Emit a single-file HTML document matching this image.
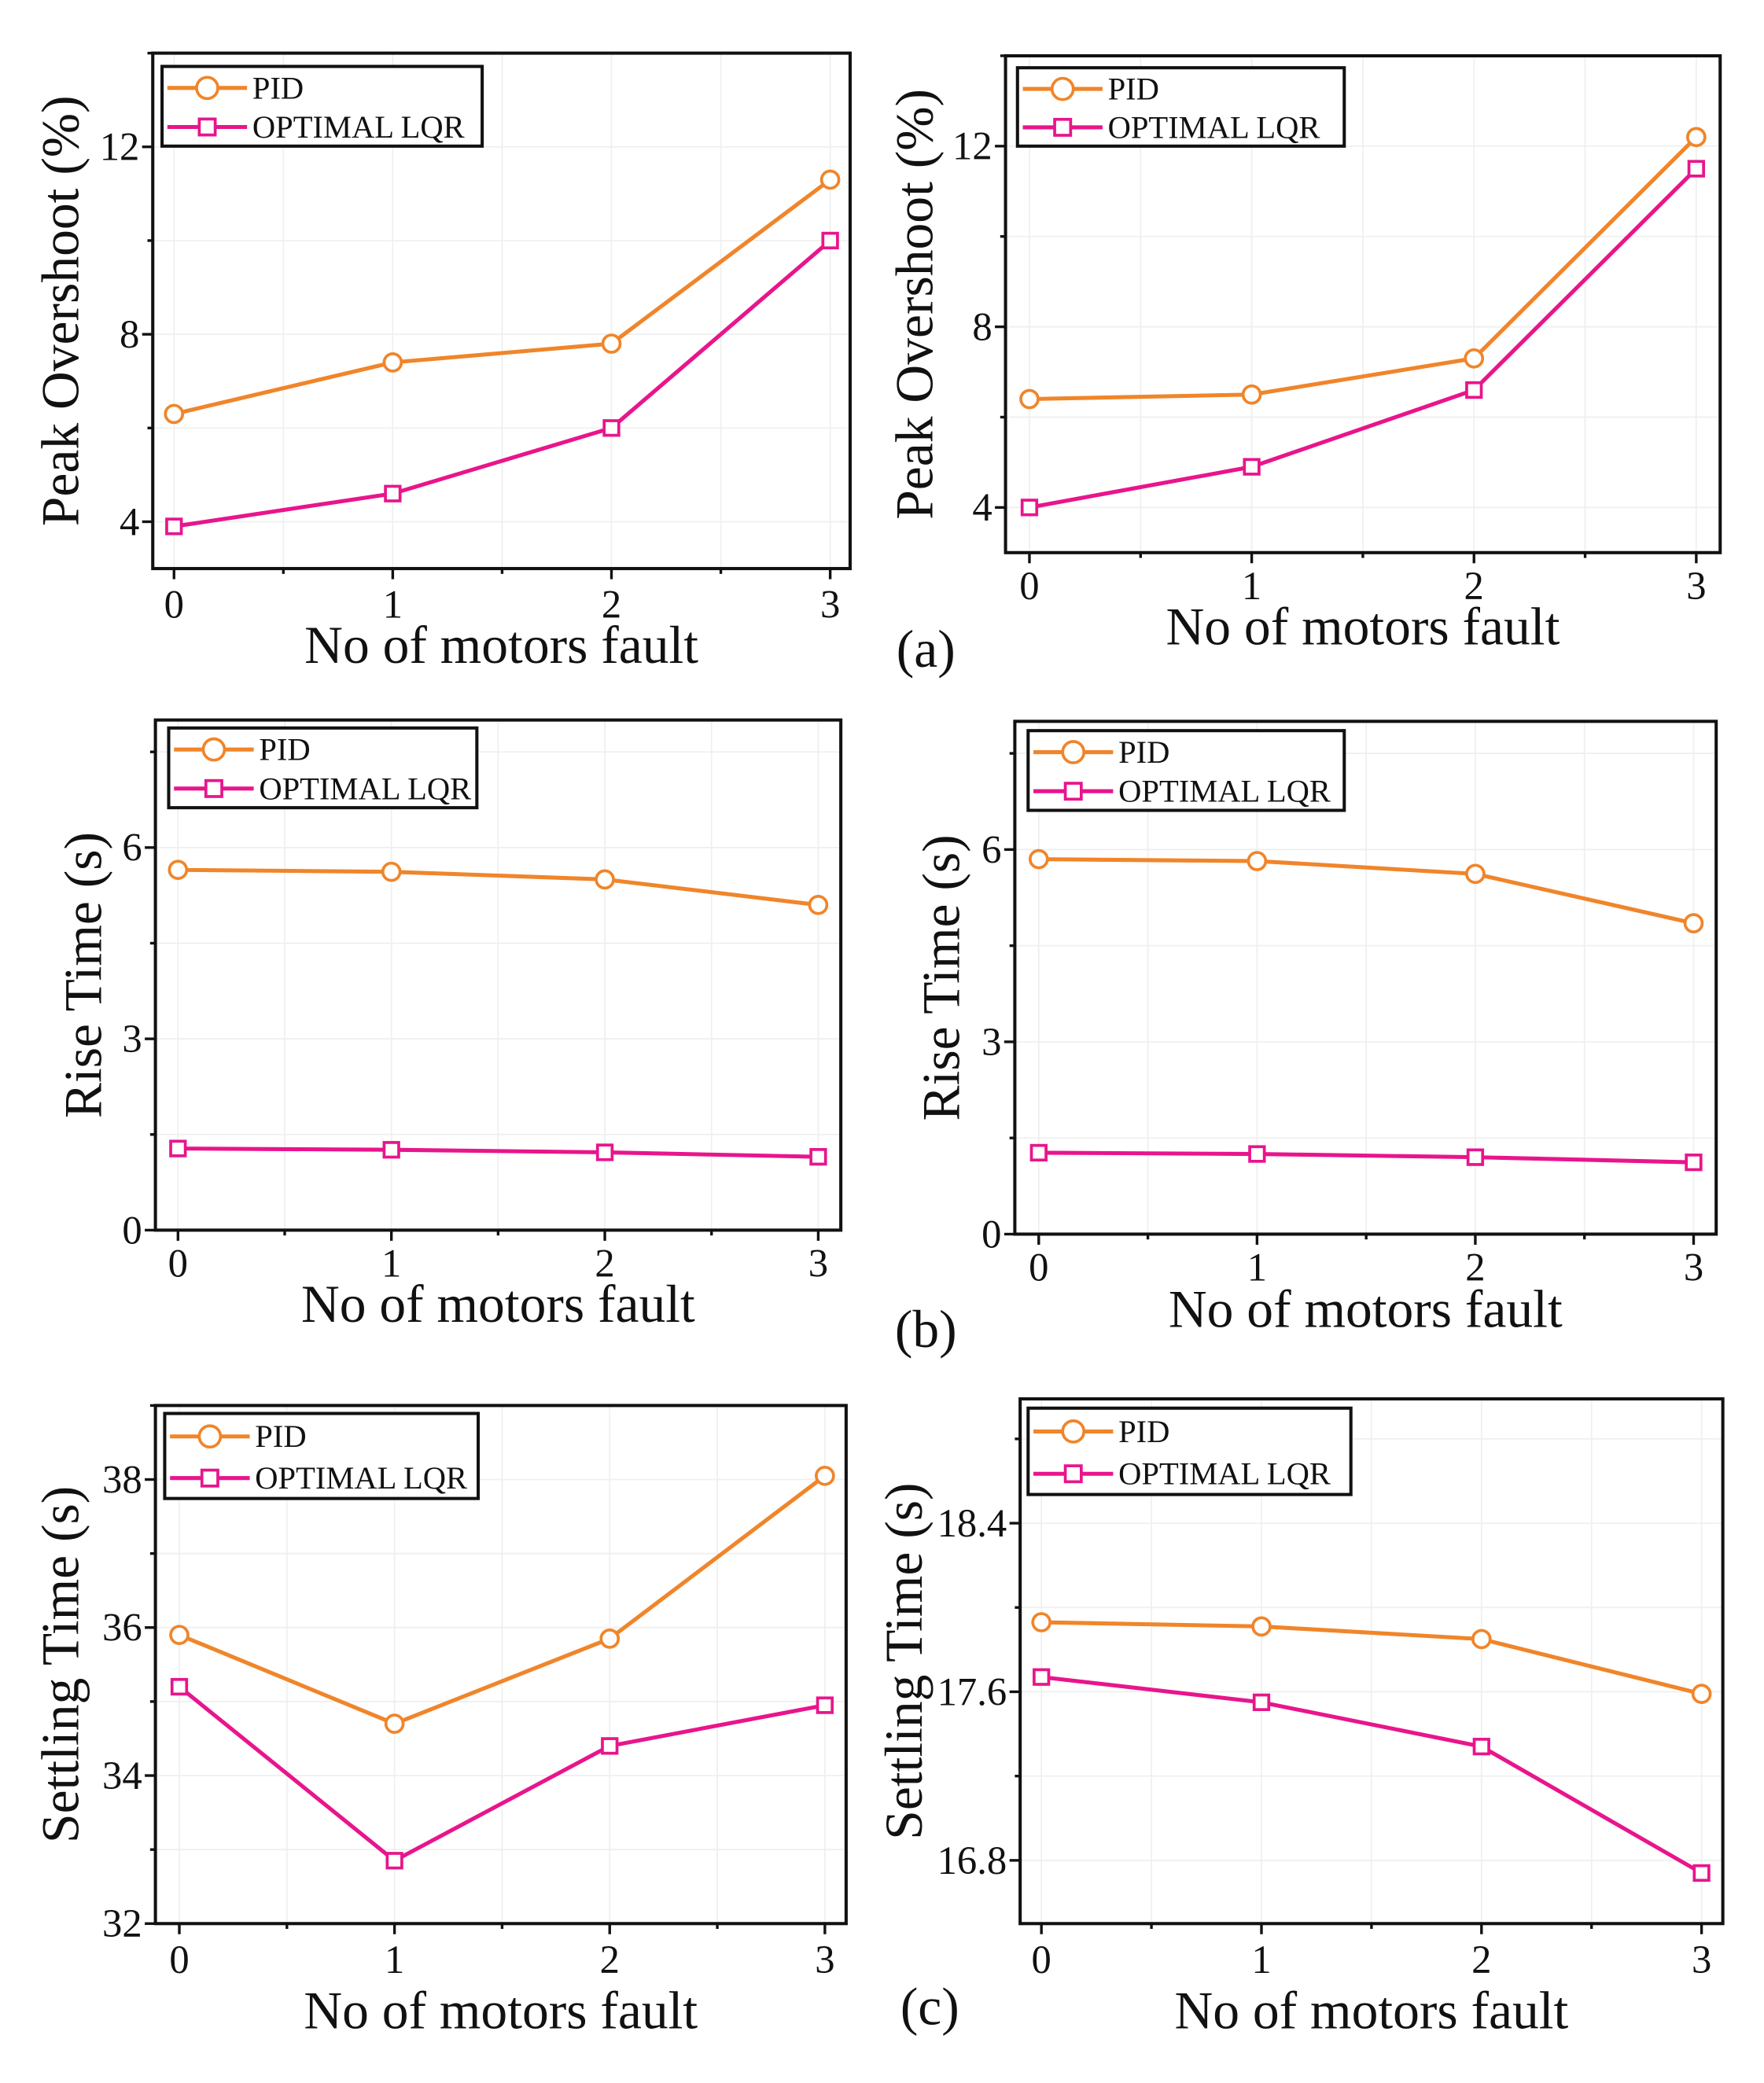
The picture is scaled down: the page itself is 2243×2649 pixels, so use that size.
<!DOCTYPE html>
<html><head><meta charset="utf-8"><style>
html,body{margin:0;padding:0;background:#fff;}
svg{display:block;}
text{font-family:"Liberation Serif","DejaVu Serif",serif;fill:#111;}
</style></head><body>
<svg id="fig" width="2243" height="2649" viewBox="0 0 1328 1568" preserveAspectRatio="none" xmlns="http://www.w3.org/2000/svg" font-family="Liberation Serif, serif">
<text x="697" y="502" font-size="40" text-anchor="middle">(a)</text>
<text x="697" y="1014" font-size="40" text-anchor="middle">(b)</text>
<text x="700" y="1524" font-size="40" text-anchor="middle">(c)</text>
</svg>
<script>
const xCats = [0, 1, 2, 3];
const seriesNames = ["PID", "OPTIMAL LQR"];
const pidA1 = [6.3, 7.4, 7.8, 11.3];
const lqrA1 = [3.9, 4.6, 6.0, 10.0];
const pidA2 = [6.4, 6.5, 7.3, 12.2];
const lqrA2 = [4.0, 4.9, 6.6, 11.5];
const pidB1 = [5.65, 5.62, 5.5, 5.1];
const lqrB1 = [1.28, 1.26, 1.22, 1.15];
const pidB2 = [5.85, 5.82, 5.62, 4.85];
const lqrB2 = [1.27, 1.25, 1.2, 1.12];
const pidC1 = [35.9, 34.7, 35.85, 38.05];
const lqrC1 = [35.2, 32.85, 34.4, 34.95];
const pidC2 = [17.93, 17.91, 17.85, 17.59];
const lqrC2 = [17.67, 17.55, 17.34, 16.74];
const ticksA = [4, 8, 12];
const ticksB = [0, 3, 6];
const ticksC1 = [32, 34, 36, 38];
const ticksC2 = [16.8, 17.6, 18.4];
const tickLabelsC2 = ["16.8", "17.6", "18.4"];

const NS = "http://www.w3.org/2000/svg";
const svg = document.getElementById("fig");
const ORANGE = "#F0852A", PINK = "#E8158C";
const FONT = "Liberation Serif, DejaVu Serif, serif";

function mk(tag, attrs, parent) {
  const e = document.createElementNS(NS, tag);
  for (const k in attrs) e.setAttribute(k, attrs[k]);
  if (tag === "text") e.setAttribute("font-family", FONT);
  (parent || svg).appendChild(e);
  return e;
}

const panels = [
  {id:"a-left", L:115,T:40,R:640,B:428, x0:131,x3:625, ymin:3,ymax:14, ticks:ticksA, labels:null, pid:pidA1, lqr:lqrA1, title:"Peak Overshoot (%)", tx:45, lg:[122,50,363,110], xl:465, xt:499},
  {id:"a-right", L:757,T:42,R:1295,B:416, x0:775,x3:1277, ymin:3,ymax:14, ticks:ticksA, labels:null, pid:pidA2, lqr:lqrA2, title:"Peak Overshoot (%)", tx:688, lg:[766,51,1012,110], xl:451, xt:485},
  {id:"b-left", L:117,T:542,R:633,B:926, x0:134,x3:616, ymin:0,ymax:8, ticks:ticksB, labels:null, pid:pidB1, lqr:lqrB1, title:"Rise Time (s)", tx:62, lg:[127,548,359,608], xl:961, xt:995},
  {id:"b-right", L:764,T:543,R:1292,B:929, x0:782,x3:1275, ymin:0,ymax:8, ticks:ticksB, labels:null, pid:pidB2, lqr:lqrB2, title:"Rise Time (s)", tx:708, lg:[774,550,1012,610], xl:964, xt:999},
  {id:"c-left", L:117,T:1058,R:637,B:1448, x0:135,x3:621, ymin:32,ymax:39, ticks:ticksC1, labels:null, pid:pidC1, lqr:lqrC1, title:"Settling Time (s)", tx:45, lg:[124,1064,360,1128], xl:1485, xt:1527},
  {id:"c-right", L:768,T:1053,R:1297,B:1448, x0:784,x3:1281, ymin:16.5,ymax:18.99, ticks:ticksC2, labels:tickLabelsC2, pid:pidC2, lqr:lqrC2, title:"Settling Time (s)", tx:680, lg:[774,1060,1017,1125], xl:1485, xt:1527}
];

function circle(g, x, y, r, color) {
  const c = mk("circle", {cx:x, cy:y, r:r, fill:"#fff", stroke:color, "stroke-width":2.2}, g);
  
  
}
function square(g, x, y, s, color) {
  const r = mk("rect", {x:x-s, y:y-s, width:2*s, height:2*s, fill:"#fff", stroke:color, "stroke-width":2.2}, g);
  
  
}

panels.forEach(p => {
  const g = mk("g", {});
  
  
  const xs = v => p.x0 + (v - xCats[0]) * (p.x3 - p.x0) / (xCats[xCats.length-1] - xCats[0]);
  const ys = v => p.B - (v - p.ymin) * (p.B - p.T) / (p.ymax - p.ymin);
  const step = p.ticks[1] - p.ticks[0];
  const grid = mk("g", {}, g);
  
  
  for (let v = p.ticks[0] - step; v <= p.ymax + 1e-9; v += step / 2) {
    if (v < p.ymin) continue;
    mk("line", {x1:p.L, x2:p.R, y1:ys(v), y2:ys(v), stroke:"#efefef", "stroke-width":1}, grid);
  }
  for (let i = 0; i <= 6; i++) {
    const x = xs(i / 2);
    mk("line", {x1:x, x2:x, y1:p.T, y2:p.B, stroke:"#efefef", "stroke-width":1}, grid);
  }
  const fr = mk("rect", {x:p.L, y:p.T, width:p.R-p.L, height:p.B-p.T, fill:"none", stroke:"#111", "stroke-width":2.4}, g);
  
  
  const xa = mk("g", {}, g);
  
  
  for (let i = 0; i <= 6; i++) {
    const x = xs(i / 2);
    mk("line", {x1:x, x2:x, y1:p.B, y2:p.B + (i % 2 ? 4 : 8), stroke:"#111", "stroke-width":2}, xa);
  }
  xCats.forEach(c => {
    const t = mk("text", {x:xs(c), y:p.xl, "font-size":30, "text-anchor":"middle"}, xa);
    t.textContent = c;
    
    
  });
  const xt = mk("text", {x:(p.L+p.R)/2, y:p.xt, "font-size":40, "text-anchor":"middle"}, xa);
  xt.textContent = "No of motors fault";
  
  
  const ya = mk("g", {}, g);
  
  
  for (let v = p.ticks[0] - step; v <= p.ymax + 1e-9; v += step / 2) {
    if (v < p.ymin - 1e-9) continue;
    const major = p.ticks.some(t => Math.abs(t - v) < 1e-6);
    mk("line", {x1:p.L - (major ? 8 : 4), x2:p.L, y1:ys(v), y2:ys(v), stroke:"#111", "stroke-width":2}, ya);
  }
  p.ticks.forEach((v, i) => {
    const t = mk("text", {x:p.L - 10, y:ys(v) + 10, "font-size":30, "text-anchor":"end"}, ya);
    t.textContent = p.labels ? p.labels[i] : v;
    
    
  });
  const yt = mk("text", {x:p.tx, y:(p.T+p.B)/2, "font-size":40, "text-anchor":"middle", transform:`rotate(-90 ${p.tx} ${(p.T+p.B)/2})`, dy:"0.35em"}, ya);
  yt.textContent = p.title;
  
  
  const s1 = mk("g", {}, g);
  
  
  mk("polyline", {points:p.pid.map((v,i)=>xs(xCats[i])+","+ys(v)).join(" "), fill:"none", stroke:ORANGE, "stroke-width":3}, s1);
  p.pid.forEach((v,i)=>circle(s1, xs(xCats[i]), ys(v), 6.5, ORANGE));
  const s2 = mk("g", {}, g);
  
  
  mk("polyline", {points:p.lqr.map((v,i)=>xs(xCats[i])+","+ys(v)).join(" "), fill:"none", stroke:PINK, "stroke-width":3}, s2);
  p.lqr.forEach((v,i)=>square(s2, xs(xCats[i]), ys(v), 5.5, PINK));
  const [lx1, ly1, lx2, ly2] = p.lg;
  const lg = mk("g", {}, g);
  
  
  mk("rect", {x:lx1, y:ly1, width:lx2-lx1, height:ly2-ly1, fill:"#fff", stroke:"#111", "stroke-width":2.4}, lg);
  const h = ly2 - ly1;
  [0,1].forEach(k => {
    const cy = ly1 + h*(k ? 0.76 : 0.27);
    const color = k ? PINK : ORANGE;
    const e = mk("g", {}, lg);
    
    
    mk("line", {x1:lx1+4, x2:lx1+64, y1:cy, y2:cy, stroke:color, "stroke-width":3}, e);
    if (k) square(e, lx1+34, cy, 6, color); else circle(e, lx1+34, cy, 8, color);
    const t = mk("text", {x:lx1+68, y:cy+8, "font-size":24}, e);
    t.textContent = seriesNames[k];
  });
});
</script>
</body></html>
